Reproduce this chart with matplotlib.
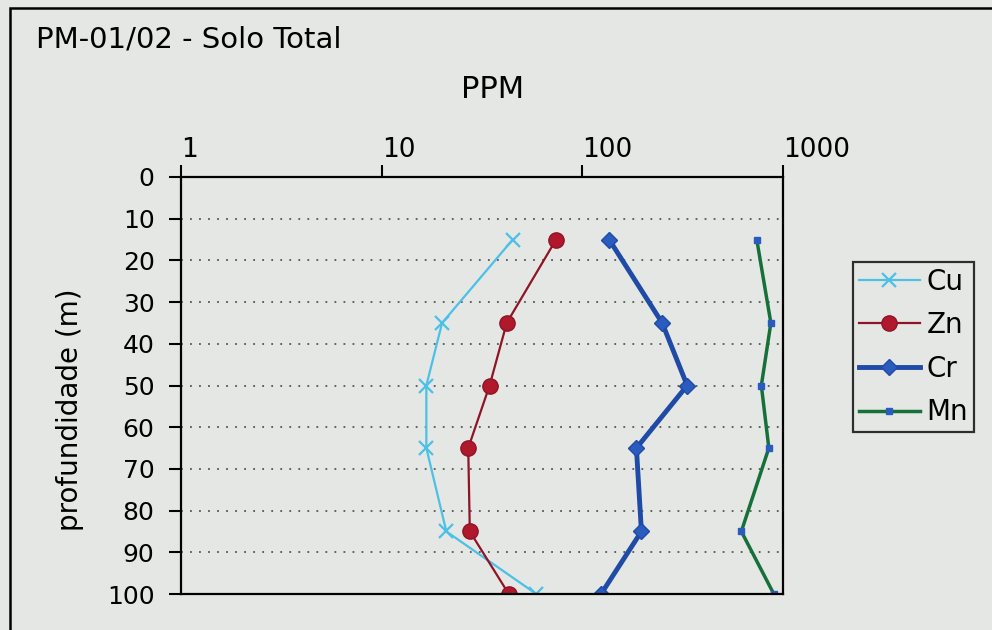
import numpy as np
import matplotlib
matplotlib.use("Agg")
import matplotlib.pyplot as plt
from matplotlib.patches import Rectangle

plt.rcParams['font.family'] = ['DejaVu Sans']

depth = [15, 35, 50, 65, 85, 100]
cu = [45, 20, 16.7, 16.7, 21, 59]
zn = [74, 42, 34.5, 27, 27.5, 43]
cr = [136, 250, 333, 186, 197, 124]
mn = [740, 870, 780, 850, 620, 900]

bg = '#e5e7e4'

fig = plt.figure(figsize=(9.92, 6.3), dpi=100, facecolor=bg)
ax = fig.add_axes([181/992, 1 - 594/630, (783 - 181)/992, (594 - 177)/630])
ax.set_facecolor(bg)

ax.plot(cu, depth, color='#4cc0e6', lw=1.6, marker='x', ms=10, mew=1.6, label='Cu')
ax.plot(zn, depth, color='#8e1426', lw=1.6, marker='o', ms=11, mfc='#b0182c', mec='#8e1426', label='Zn')
ax.plot(cr, depth, color='#1f4aa6', lw=3.5, marker='D', ms=8, mfc='#2a5cc0', mec='#1f4aa6', label='Cr')
ax.plot(mn, depth, color='#16703a', lw=2.5, marker='s', ms=4, mfc='#2a5cc0', mec='#2a5cc0', label='Mn')

ax.set_xscale('log')
ax.set_xlim(1, 1000)
ax.set_ylim(100, 0)
ax.set_yticks(np.arange(0, 101, 10))
ax.set_xticks([1, 10, 100, 1000])
ax.set_xticklabels(['1', '10', '100', '1000'])
ax.xaxis.set_minor_locator(matplotlib.ticker.NullLocator())
ax.xaxis.tick_top()
ax.tick_params(axis='both', length=9, width=1.5, color='black', direction='out')
ax.tick_params(axis='x', labelsize=19, pad=1)
ax.tick_params(axis='y', labelsize=18, pad=10)
for lab in ax.get_xticklabels():
    lab.set_ha('left')
ax.yaxis.grid(True, linestyle=(0, (1, 4)), color='#555555', lw=1.3)
for s in ax.spines.values():
    s.set_linewidth(1.6)
    s.set_color('black')

fig.text(70/992, 1 - 410/630, 'profundidade (m)', fontsize=20, rotation=90, va='center', ha='center')
fig.text(36/992, 1 - 40/630, 'PM-01/02 - Solo Total', fontsize=21, va='center', ha='left')
fig.text(493/992, 1 - 89/630, 'PPM', fontsize=22, va='center', ha='center')

leg = ax.legend(loc='upper left', bbox_to_anchor=(853/992, 1 - 262/630), bbox_transform=fig.transFigure,
                fontsize=20, frameon=True, fancybox=False, edgecolor='black', facecolor=bg,
                handlelength=2.2, handletextpad=0.25, labelspacing=0.56, borderpad=0.2, borderaxespad=0)
leg.get_frame().set_linewidth(1.6)

fig.patches.append(Rectangle((10/992, -0.1), 1.2, 1.1 - 8/630, transform=fig.transFigure,
                             fill=False, edgecolor='black', lw=1.8))

fig.savefig('out.png', dpi=100, facecolor=bg)
